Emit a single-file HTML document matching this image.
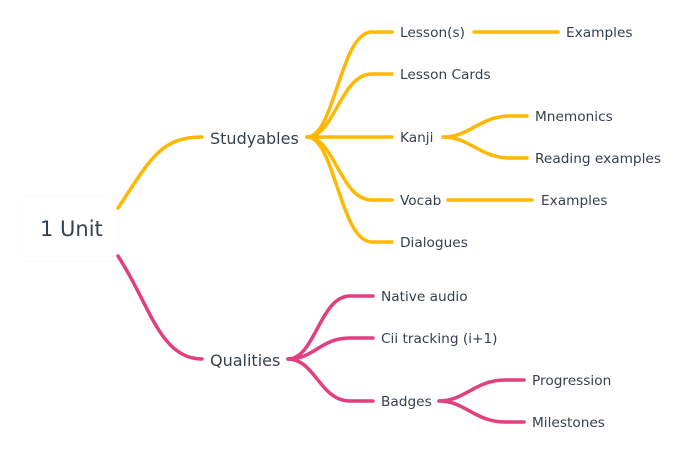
<!DOCTYPE html>
<html><head><meta charset="utf-8"><style>
html,body{margin:0;padding:0;background:#fff;width:690px;height:454px;overflow:hidden}
svg text{font-family:"DejaVu Sans","Liberation Sans",sans-serif;fill:#36414f}
</style></head><body>
<svg width="690" height="454" viewBox="0 0 690 454" xmlns="http://www.w3.org/2000/svg">
<rect x="19" y="196" width="99" height="66" rx="6" fill="#fff" stroke="#fafafa"/>
<g fill="none" stroke-width="3.5" stroke-linecap="round">
<g stroke="#FFB800">
<path d="M118 208 C150 160,160 137,202 137"/>
<path d="M307 137 C335 137,340 32,372 32 L392 32"/>
<path d="M307 137 C335 137,340 74,372 74 L392 74"/>
<path d="M307 137 L392 137"/>
<path d="M307 137 C335 137,340 200,372 200 L392 200"/>
<path d="M307 137 C335 137,340 242,372 242 L392 242"/>
<path d="M474 32 L558 32"/>
<path d="M443 137 C470 137,480 116,510 116 L527 116"/>
<path d="M443 137 C470 137,480 158,510 158 L527 158"/>
<path d="M448 200 L532 200"/>
</g>
<g stroke="#E23F80">
<path d="M118 256 C150 305,160 359,202 359"/>
<path d="M288 359 C315 359,320 296,350 296 L373 296"/>
<path d="M288 359 C315 359,320 338,350 338 L373 338"/>
<path d="M288 359 C315 359,320 401,350 401 L373 401"/>
<path d="M439 401 C465 401,475 380,505 380 L524 380"/>
<path d="M439 401 C465 401,475 422,505 422 L524 422"/>
</g>
</g>
<text x="40" y="236" font-size="21">1 Unit</text>
<text x="210" y="144" font-size="16">Studyables</text>
<text x="210" y="366" font-size="16">Qualities</text>
<g font-size="13.7">
<text x="400" y="37">Lesson(s)</text>
<text x="566" y="37">Examples</text>
<text x="400" y="79">Lesson Cards</text>
<text x="400" y="142">Kanji</text>
<text x="535" y="121">Mnemonics</text>
<text x="535" y="163">Reading examples</text>
<text x="400" y="205">Vocab</text>
<text x="541" y="205">Examples</text>
<text x="400" y="247">Dialogues</text>
<text x="381" y="301">Native audio</text>
<text x="381" y="343">Cii tracking (i+1)</text>
<text x="381" y="406">Badges</text>
<text x="532" y="385">Progression</text>
<text x="532" y="427">Milestones</text>
</g>
</svg>
</body></html>
